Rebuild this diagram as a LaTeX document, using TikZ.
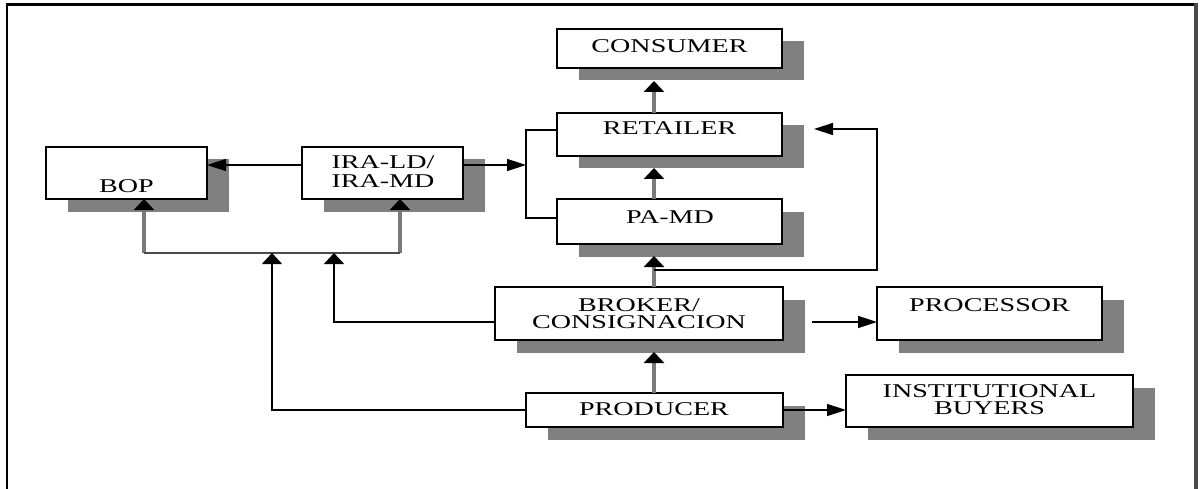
\documentclass[tikz,border=0pt]{standalone}
\usepackage{fontspec}
\setmainfont{Liberation Serif}
\usetikzlibrary{arrows.meta,shadows,calc}
\definecolor{shade}{HTML}{808080}
\definecolor{stemgray}{HTML}{7A7A7A}
\definecolor{framegray}{HTML}{4A4A4A}
\begin{document}
\begin{tikzpicture}[x=1pt,y=-1pt,
  box/.style={draw=black, line width=1.8pt, fill=white, rectangle,
    inner sep=0pt, outer sep=0pt,
    general shadow={fill=shade, shadow xshift=22pt, shadow yshift=-12.5pt}},
  lbl/.style={font=\fontsize{19.5}{17}\selectfont, align=center,
    inner sep=0pt, xscale=1.44, transform shape},
  thinline/.style={draw=black, line width=1.5pt},
  stem/.style={draw=stemgray, line width=3.5pt},
  vtip/.style={-{Triangle[length=11pt,width=20pt,color=black]}},
  htip/.style={-{Triangle[length=19pt,width=12pt,color=black]}},
]
\useasboundingbox (0,0) rectangle (1201,489);

% outer frame, open at the bottom
\draw[black, line width=2.5pt] (7,489) -- (7,4.5) -- (1196,4.5);
\draw[framegray, line width=4pt] (1196,3) -- (1196,489);

% boxes
\node[box, minimum width=225pt, minimum height=39pt] (consumer)  at (669.5,48.5) {};
\node[box, minimum width=225pt, minimum height=43pt] (retailer)  at (669.5,134.5) {};
\node[box, minimum width=225pt, minimum height=45pt] (pamd)      at (669.5,221.5) {};
\node[box, minimum width=161pt, minimum height=52pt] (bop)       at (126.5,173) {};
\node[box, minimum width=161pt, minimum height=52pt] (ira)       at (382.5,173) {};
\node[box, minimum width=288pt, minimum height=53pt] (broker)    at (639,313.5) {};
\node[box, minimum width=225pt, minimum height=53pt] (processor) at (989.5,313.5) {};
\node[box, minimum width=257pt, minimum height=34pt] (producer)  at (654.5,410) {};
\node[box, minimum width=287pt, minimum height=52pt] (inst)      at (989.5,401) {};

% labels (multi-line labels sit on the baseline of their last line)
\node[lbl, anchor=base] (consumer-t)  at (669.5,53)  {CONSUMER};
\node[lbl, anchor=base] (retailer-t)  at (669.5,135) {RETAILER};
\node[lbl, anchor=base] (pamd-t)      at (670,223)   {PA-MD};
\node[lbl, anchor=base] (bop-t)       at (126.5,193) {BOP};
\node[lbl, anchor=base, font=\fontsize{19.5}{19}\selectfont] (ira-t) at (383,187) {IRA-LD/\\IRA-MD};
\node[lbl, anchor=base] (broker-t)    at (639,328)   {BROKER/\\CONSIGNACION};
\node[lbl, anchor=base] (processor-t) at (989.5,311) {PROCESSOR};
\node[lbl, anchor=base] (producer-t)  at (654,415)   {PRODUCER};
\node[lbl, anchor=base] (inst-t)      at (989.5,414) {INSTITUTIONAL\\BUYERS};

% helper coordinates for the routing
\coordinate (colx)  at (654,0);
\coordinate (brk)   at (526,0);
\coordinate (rowA)  at (0,165);
\coordinate (loopR) at (877,270);
\coordinate (retIn) at (814,129);
\coordinate (bopIn) at (144,253);
\coordinate (iraIn) at (400,253);
\coordinate (pX)    at (272,0);
\coordinate (bX)    at (334,0);
\coordinate (retL)  at ($(retailer.west)+(0,-4.5)$);
\coordinate (pamdL) at ($(pamd.west)+(0,-3.5)$);
\coordinate (brkOut) at ($(broker.west)+(0,8.5)$);
\coordinate (brkR)  at ($(broker.east)+(29,8.5)$);
\coordinate (split) at ($(broker.north -| colx)+(0,-17)$);

% vertical flow up the middle column
\draw[stem, vtip] (retailer.north -| colx) -- ($(consumer.south -| colx)+(0,13)$);
\draw[stem, vtip] (pamd.north -| colx) -- ($(retailer.south -| colx)+(0,12)$);
\draw[stem, vtip] (broker.north -| colx) -- ($(pamd.south -| colx)+(0,12)$);
\draw[stem, vtip] (producer.north -| colx) -- ($(broker.south -| colx)+(0,12)$);

% broker bypass to the retailer
\draw[thinline, htip] (split) -- (loopR) |- (retIn);

% IRA outputs
\draw[thinline, htip] (ira.west |- rowA) -- (bop.east |- rowA);
\draw[thinline, htip] (ira.east |- rowA) -- (brk |- rowA);
\draw[thinline] (retL) -- (retL -| brk) -- (pamdL -| brk) -- (pamdL);

% feeds into BOP and IRA
\draw[stem, vtip] (bopIn) -- (bop.south -| bopIn);
\draw[stem, vtip] (iraIn) -- (ira.south -| iraIn);
\draw[draw=framegray, line width=2pt] (bopIn) -- (iraIn);
\draw[thinline, vtip] (producer.west) -- (producer.west -| pX) -- (pX |- bopIn);
\draw[thinline, vtip] (brkOut) -- (brkOut -| bX) -- (bX |- bopIn);

% side outlets
\draw[thinline, htip] (brkR) -- (processor.west |- brkR);
\draw[thinline, htip] (producer.east) -- (inst.west |- producer.east);
\end{tikzpicture}
\end{document}
